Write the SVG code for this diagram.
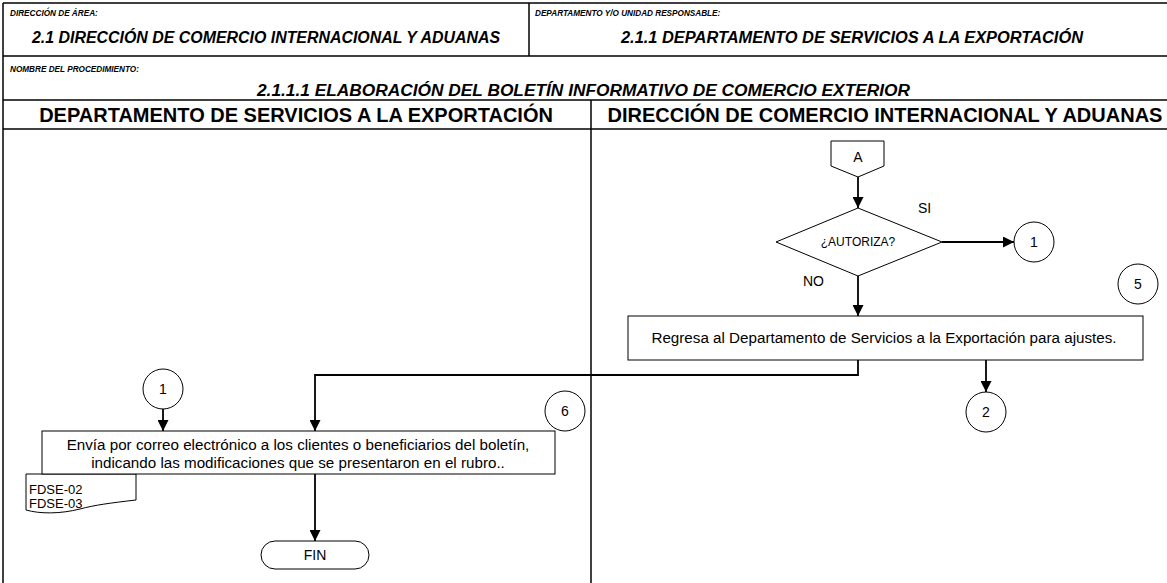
<svg xmlns="http://www.w3.org/2000/svg" width="1167" height="583" viewBox="0 0 1167 583">
<style>
.frame{stroke:#000;stroke-width:1.5;fill:none}
.shape{stroke:#000;stroke-width:1;fill:#fff}
.conn{stroke:#000;stroke-width:1.8;fill:none}
.lbl{font-family:"Liberation Sans",Arial,sans-serif;fill:#000}
.hsmall{font-size:8.2px;font-weight:bold;font-style:italic}
.hbig{font-size:16px;font-weight:bold;font-style:italic}
.lane{font-size:20px;font-weight:bold}
.body{font-size:15.2px}
.num{font-size:14px}
</style>
<defs>
<marker id="ah" viewBox="0 0 10 10" refX="10" refY="5" markerWidth="11" markerHeight="11" markerUnits="userSpaceOnUse" orient="auto">
<path d="M0,0 L10,5 L0,10 Z" fill="#000"/>
</marker>
</defs>
<rect width="1167" height="583" fill="#fff"/>
<g id="frame">
<line class="frame" x1="3" y1="3" x2="1167" y2="3"/>
<line class="frame" x1="3" y1="3" x2="3" y2="583"/>
<line class="frame" x1="3" y1="56" x2="1167" y2="56"/>
<line class="frame" x1="529" y1="3" x2="529" y2="56"/>
<line class="frame" x1="3" y1="100" x2="1167" y2="100"/>
<line class="frame" x1="3" y1="129" x2="1167" y2="129"/>
<line class="frame" x1="591" y1="100" x2="591" y2="583"/>
<text class="lbl hsmall" x="10" y="16">DIRECCIÓN DE ÁREA:</text>
<text class="lbl hbig" x="32" y="43" textLength="468" lengthAdjust="spacingAndGlyphs">2.1 DIRECCIÓN DE COMERCIO INTERNACIONAL Y ADUANAS</text>
<text class="lbl hsmall" x="535" y="16">DEPARTAMENTO Y/O UNIDAD RESPONSABLE:</text>
<text class="lbl hbig" x="621" y="43" textLength="462" lengthAdjust="spacingAndGlyphs">2.1.1 DEPARTAMENTO DE SERVICIOS A LA EXPORTACIÓN</text>
<text class="lbl hsmall" x="10" y="72">NOMBRE DEL PROCEDIMIENTO:</text>
<text class="lbl hbig" x="257" y="96" textLength="653" lengthAdjust="spacingAndGlyphs">2.1.1.1 ELABORACIÓN DEL BOLETÍN INFORMATIVO DE COMERCIO EXTERIOR</text>
<text class="lbl lane" x="296" y="122" text-anchor="middle">DEPARTAMENTO DE SERVICIOS A LA EXPORTACIÓN</text>
<text class="lbl lane" x="885" y="122" text-anchor="middle">DIRECCIÓN DE COMERCIO INTERNACIONAL Y ADUANAS</text>
</g>
<g id="connectors">
<line class="conn" x1="858" y1="177" x2="858" y2="208" marker-end="url(#ah)"/>
<line class="conn" x1="942" y1="242" x2="1014" y2="242" marker-end="url(#ah)"/>
<line class="conn" x1="858" y1="276" x2="858" y2="316" marker-end="url(#ah)"/>
<polyline class="conn" points="858,360 858,375 315,375 315,431" marker-end="url(#ah)"/>
<line class="conn" x1="986" y1="360" x2="986" y2="392" marker-end="url(#ah)"/>
<line class="conn" x1="163" y1="409" x2="163" y2="431" marker-end="url(#ah)"/>
<line class="conn" x1="315" y1="474" x2="315" y2="541" marker-end="url(#ah)"/>
</g>
<g id="node-A">
<path class="shape" d="M831,141 H884 V166 L858,177 L831,166 Z"/>
<text class="lbl num" x="858" y="162" text-anchor="middle">A</text>
</g>
<g id="node-autoriza">
<path class="shape" d="M858,208 L942,242 L858,276 L776,242 Z"/>
<text class="lbl" font-size="12" x="858" y="246" text-anchor="middle">¿AUTORIZA?</text>
<text class="lbl num" x="918" y="213">SI</text>
<text class="lbl num" x="803" y="286">NO</text>
</g>
<g id="node-c1-right">
<circle class="shape" cx="1034" cy="242" r="20"/>
<text class="lbl num" x="1034" y="247" text-anchor="middle">1</text>
</g>
<g id="node-c5">
<circle class="shape" cx="1138" cy="284" r="20"/>
<text class="lbl num" x="1138" y="289" text-anchor="middle">5</text>
</g>
<g id="node-regresa">
<rect class="shape" x="628" y="316" width="515" height="44"/>
<text class="lbl body" x="884" y="343" text-anchor="middle">Regresa al Departamento de Servicios a la Exportación para ajustes.</text>
</g>
<g id="node-c2">
<circle class="shape" cx="986" cy="412" r="20"/>
<text class="lbl num" x="986" y="417" text-anchor="middle">2</text>
</g>
<g id="node-c1-left">
<circle class="shape" cx="163" cy="389" r="20"/>
<text class="lbl num" x="163" y="394" text-anchor="middle">1</text>
</g>
<g id="node-c6">
<circle class="shape" cx="565" cy="411" r="20"/>
<text class="lbl num" x="565" y="416" text-anchor="middle">6</text>
</g>
<g id="node-doc">
<path class="shape" d="M26,474 H136 V500 C110,503 95,505 80,509 C60,514 40,514 26,510 Z"/>
<text class="lbl" font-size="13" x="29" y="494">FDSE-02</text>
<text class="lbl" font-size="13" x="29" y="508">FDSE-03</text>
</g>
<g id="node-envia">
<rect class="shape" x="42" y="431" width="513" height="43"/>
<text class="lbl body" x="298" y="450" text-anchor="middle">Envía por correo electrónico a los clientes o beneficiarios del boletín,</text>
<text class="lbl body" x="298" y="468" text-anchor="middle">indicando las modificaciones que se presentaron en el rubro..</text>
</g>
<g id="node-fin">
<rect class="shape" x="261" y="541" width="108" height="28" rx="14" ry="14"/>
<text class="lbl num" x="315" y="560" text-anchor="middle">FIN</text>
</g>
</svg>
